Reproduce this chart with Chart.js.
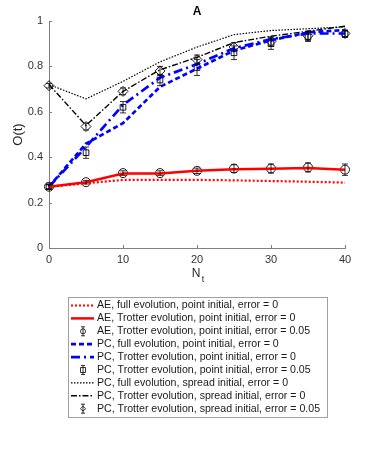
<!DOCTYPE html>
<html>
<head>
<meta charset="utf-8">
<script src="https://cdn.jsdelivr.net/npm/chart.js@4"></script>
<style>
	html, body { margin: 0; padding: 0; background: #fff; }
	.chart__canvas { display: block; }
</style>
</head>
<body>
<canvas class="chart__canvas" width="382" height="458"></canvas>
<script>
const nt = [0, 5, 10, 15, 20, 25, 30, 35, 40];
const xTicks = [0, 10, 20, 30, 40];
const yTicks = [0, 0.2, 0.4, 0.6, 0.8, 1];

const aeFull = [0.27, 0.285, 0.3, 0.3, 0.3, 0.298, 0.295, 0.292, 0.288];
const aeTrotter = [0.27, 0.29, 0.328, 0.328, 0.34, 0.347, 0.349, 0.352, 0.345];
const aeErrVals = [0.27, 0.29, 0.33, 0.33, 0.34, 0.35, 0.35, 0.355, 0.345];
const aeErrBars = [0.008, 0.008, 0.01, 0.01, 0.012, 0.017, 0.02, 0.02, 0.025];

const pcPointFull = [0.27, 0.46, 0.55, 0.71, 0.79, 0.87, 0.915, 0.95, 0.96];
const pcPointTrotter = [0.27, 0.445, 0.63, 0.75, 0.81, 0.88, 0.92, 0.945, 0.945];
const pcPointErrVals = [0.27, 0.42, 0.62, 0.74, 0.795, 0.86, 0.9, 0.93, 0.943];
const pcPointErrBars = [0.01, 0.025, 0.025, 0.025, 0.035, 0.03, 0.025, 0.02, 0.015];

const pcSpreadFull = [0.72, 0.657, 0.734, 0.82, 0.885, 0.94, 0.958, 0.966, 0.974];
const pcSpreadTrotter = [0.72, 0.54, 0.69, 0.785, 0.84, 0.905, 0.933, 0.955, 0.977];
const pcSpreadErrVals = [0.715, 0.535, 0.69, 0.78, 0.83, 0.885, 0.91, 0.935, 0.945];
const pcSpreadErrBars = [0.01, 0.015, 0.015, 0.02, 0.02, 0.02, 0.02, 0.02, 0.015];

const labels = [
	"AE, full evolution, point initial, error = 0",
	"AE, Trotter evolution, point initial, error = 0",
	"AE, Trotter evolution, point initial, error = 0.05",
	"PC, full evolution, point initial, error = 0",
	"PC, Trotter evolution, point initial, error = 0",
	"PC, Trotter evolution, point initial, error = 0.05",
	"PC, full evolution, spread initial, error = 0",
	"PC, Trotter evolution, spread initial, error = 0",
	"PC, Trotter evolution, spread initial, error = 0.05",
];

const FONT = "'Liberation Sans', Arial, sans-serif";

function pts(values) {
	return values.map((v, i) => ({ x: nt[i], y: v }));
}

function lineSet(label, values, color, width, dash) {
	return {
		label: label,
		data: pts(values),
		borderColor: color,
		borderWidth: width,
		borderDash: dash,
		pointRadius: 0,
		fill: false,
		tension: 0,
		clip: false,
	};
}

function errSet(label, values, bars, style, radius) {
	return {
		label: label,
		data: pts(values),
		errBars: bars,
		showLine: false,
		pointStyle: style,
		pointRadius: radius,
		pointBorderColor: "#000",
		pointBackgroundColor: "rgba(0,0,0,0)",
		pointBorderWidth: 0.9,
		borderColor: "#000",
		clip: false,
	};
}

const datasets = [
	lineSet(labels[0], aeFull, "#ff0000", 2.2, [2, 2]),
	lineSet(labels[1], aeTrotter, "#ff0000", 2.5, []),
	errSet(labels[2], aeErrVals, aeErrBars, "circle", 4.5),
	lineSet(labels[3], pcPointFull, "#0000ff", 2.7, [5, 3]),
	lineSet(labels[4], pcPointTrotter, "#0000ff", 2.7, [9, 4, 2, 4]),
	errSet(labels[5], pcPointErrVals, pcPointErrBars, "rect", 4),
	lineSet(labels[6], pcSpreadFull, "#000", 1.2, [1.5, 1.5]),
	lineSet(labels[7], pcSpreadTrotter, "#000", 1.4, [6, 2, 1.5, 2]),
	errSet(labels[8], pcSpreadErrVals, pcSpreadErrBars, "rectRot", 5),
];

const errorBarPlugin = {
	id: "errorBars",
	afterDatasetsDraw(chart) {
		const ctx = chart.ctx;
		const x = chart.scales.x;
		const y = chart.scales.y;
		ctx.save();
		ctx.strokeStyle = "#000";
		ctx.lineWidth = 0.8;
		ctx.setLineDash([]);
		chart.data.datasets.forEach((ds) => {
			if (!ds.errBars) return;
			ds.data.forEach((p, i) => {
				const px = x.getPixelForValue(p.x);
				const top = y.getPixelForValue(p.y + ds.errBars[i]);
				const bottom = y.getPixelForValue(p.y - ds.errBars[i]);
				ctx.beginPath();
				ctx.moveTo(px, top);
				ctx.lineTo(px, bottom);
				ctx.moveTo(px - 3, top);
				ctx.lineTo(px + 3, top);
				ctx.moveTo(px - 3, bottom);
				ctx.lineTo(px + 3, bottom);
				ctx.stroke();
			});
		});
		ctx.restore();
	},
};

function drawMarker(ctx, style, cx, cy, r) {
	ctx.beginPath();
	if (style === "circle") {
		ctx.arc(cx, cy, r, 0, Math.PI * 2);
	} else if (style === "rect") {
		ctx.rect(cx - r, cy - r, r * 2, r * 2);
	} else {
		ctx.moveTo(cx, cy - r);
		ctx.lineTo(cx + r, cy);
		ctx.lineTo(cx, cy + r);
		ctx.lineTo(cx - r, cy);
		ctx.closePath();
	}
	ctx.stroke();
}

const decorPlugin = {
	id: "decor",
	afterDraw(chart) {
		const ctx = chart.ctx;
		const area = chart.chartArea;
		const x = chart.scales.x;
		const y = chart.scales.y;
		ctx.save();

		// inward tick marks
		ctx.strokeStyle = "#808080";
		ctx.lineWidth = 1;
		ctx.beginPath();
		xTicks.forEach((t) => {
			const px = Math.round(x.getPixelForValue(t)) + 0.5;
			ctx.moveTo(px, area.bottom);
			ctx.lineTo(px, area.bottom - 3);
		});
		yTicks.forEach((t) => {
			const py = Math.round(y.getPixelForValue(t)) + 0.5;
			ctx.moveTo(area.left, py);
			ctx.lineTo(area.left + 3, py);
		});
		ctx.stroke();

		// title and axis titles
		ctx.fillStyle = "#000";
		ctx.font = "bold 12px " + FONT;
		ctx.textAlign = "center";
		ctx.textBaseline = "middle";
		ctx.fillText("A", 197, 12);

		ctx.fillStyle = "#262626";
		ctx.font = "12px " + FONT;
		ctx.fillText("N", 196, 274);
		ctx.font = "9px " + FONT;
		ctx.fillText("t", 203, 280);

		ctx.font = "13px " + FONT;
		ctx.translate(18, (area.top + area.bottom) / 2);
		ctx.rotate(-Math.PI / 2);
		ctx.fillText("O(t)", 0, 0);
		ctx.setTransform(1, 0, 0, 1, 0, 0);

		// legend box
		const boxLeft = 68;
		const boxTop = 297;
		const boxRight = 327;
		const boxBottom = 417;
		ctx.fillStyle = "#fff";
		ctx.fillRect(boxLeft, boxTop, boxRight - boxLeft, boxBottom - boxTop);
		ctx.strokeStyle = "#a0a0a0";
		ctx.lineWidth = 1;
		ctx.strokeRect(boxLeft + 0.5, boxTop + 0.5, boxRight - boxLeft, boxBottom - boxTop);

		const rowStart = 305.5;
		const rowGap = 12.9;
		chart.data.datasets.forEach((ds, i) => {
			const ry = rowStart + i * rowGap;
			ctx.save();
			if (ds.errBars) {
				ctx.strokeStyle = "#000";
				ctx.lineWidth = 0.8;
				ctx.beginPath();
				ctx.moveTo(83, ry - 4.5);
				ctx.lineTo(83, ry + 4.5);
				ctx.moveTo(81, ry - 4.5);
				ctx.lineTo(85, ry - 4.5);
				ctx.moveTo(81, ry + 4.5);
				ctx.lineTo(85, ry + 4.5);
				ctx.stroke();
				drawMarker(ctx, ds.pointStyle, 83, ry, 2.5);
			} else {
				ctx.strokeStyle = ds.borderColor;
				ctx.lineWidth = ds.borderWidth;
				ctx.setLineDash(ds.borderDash);
				ctx.beginPath();
				ctx.moveTo(71, ry);
				ctx.lineTo(94, ry);
				ctx.stroke();
			}
			ctx.restore();
			ctx.fillStyle = "#1a1a1a";
			ctx.font = "10.6px " + FONT;
			ctx.textAlign = "left";
			ctx.textBaseline = "middle";
			ctx.fillText(ds.label, 97, ry);
		});

		ctx.restore();
	},
};

function configChart() {
	const tickColor = "#333";
	const axisColor = "#808080";
	const grid = { display: false, drawTicks: false, tickLength: 0 };
	return {
		type: "line",
		data: { datasets: datasets },
		options: {
			responsive: false,
			maintainAspectRatio: false,
			animation: false,
			devicePixelRatio: 1,
			layout: { padding: { left: 0, right: 37, top: 21, bottom: 0 } },
			plugins: {
				legend: { display: false },
				tooltip: { enabled: false },
				title: { display: false },
			},
			scales: {
				x: {
					type: "linear",
					min: 0,
					max: 40,
					afterBuildTicks: (scale) => {
						scale.ticks = xTicks.map((v) => ({ value: v }));
					},
					afterFit: (scale) => {
						scale.height = 210;
					},
					ticks: {
						padding: 5,
						color: tickColor,
						font: { family: FONT, size: 11 },
						maxRotation: 0,
						callback: (v) => String(v),
					},
					grid: grid,
					border: { display: true, color: axisColor, width: 1 },
				},
				y: {
					type: "linear",
					min: 0,
					max: 1,
					afterBuildTicks: (scale) => {
						scale.ticks = yTicks.map((v) => ({ value: v }));
					},
					afterFit: (scale) => {
						scale.width = 49;
					},
					ticks: {
						padding: 6,
						color: tickColor,
						font: { family: FONT, size: 11 },
						callback: (v) => String(Math.round(v * 10) / 10),
					},
					grid: grid,
					border: { display: true, color: axisColor, width: 1 },
				},
			},
		},
		plugins: [errorBarPlugin, decorPlugin],
	};
}

function render() {
	const chartDOM = document.querySelector(".chart__canvas");
	new Chart(chartDOM, configChart());
}

render();
</script>
</body>
</html>
